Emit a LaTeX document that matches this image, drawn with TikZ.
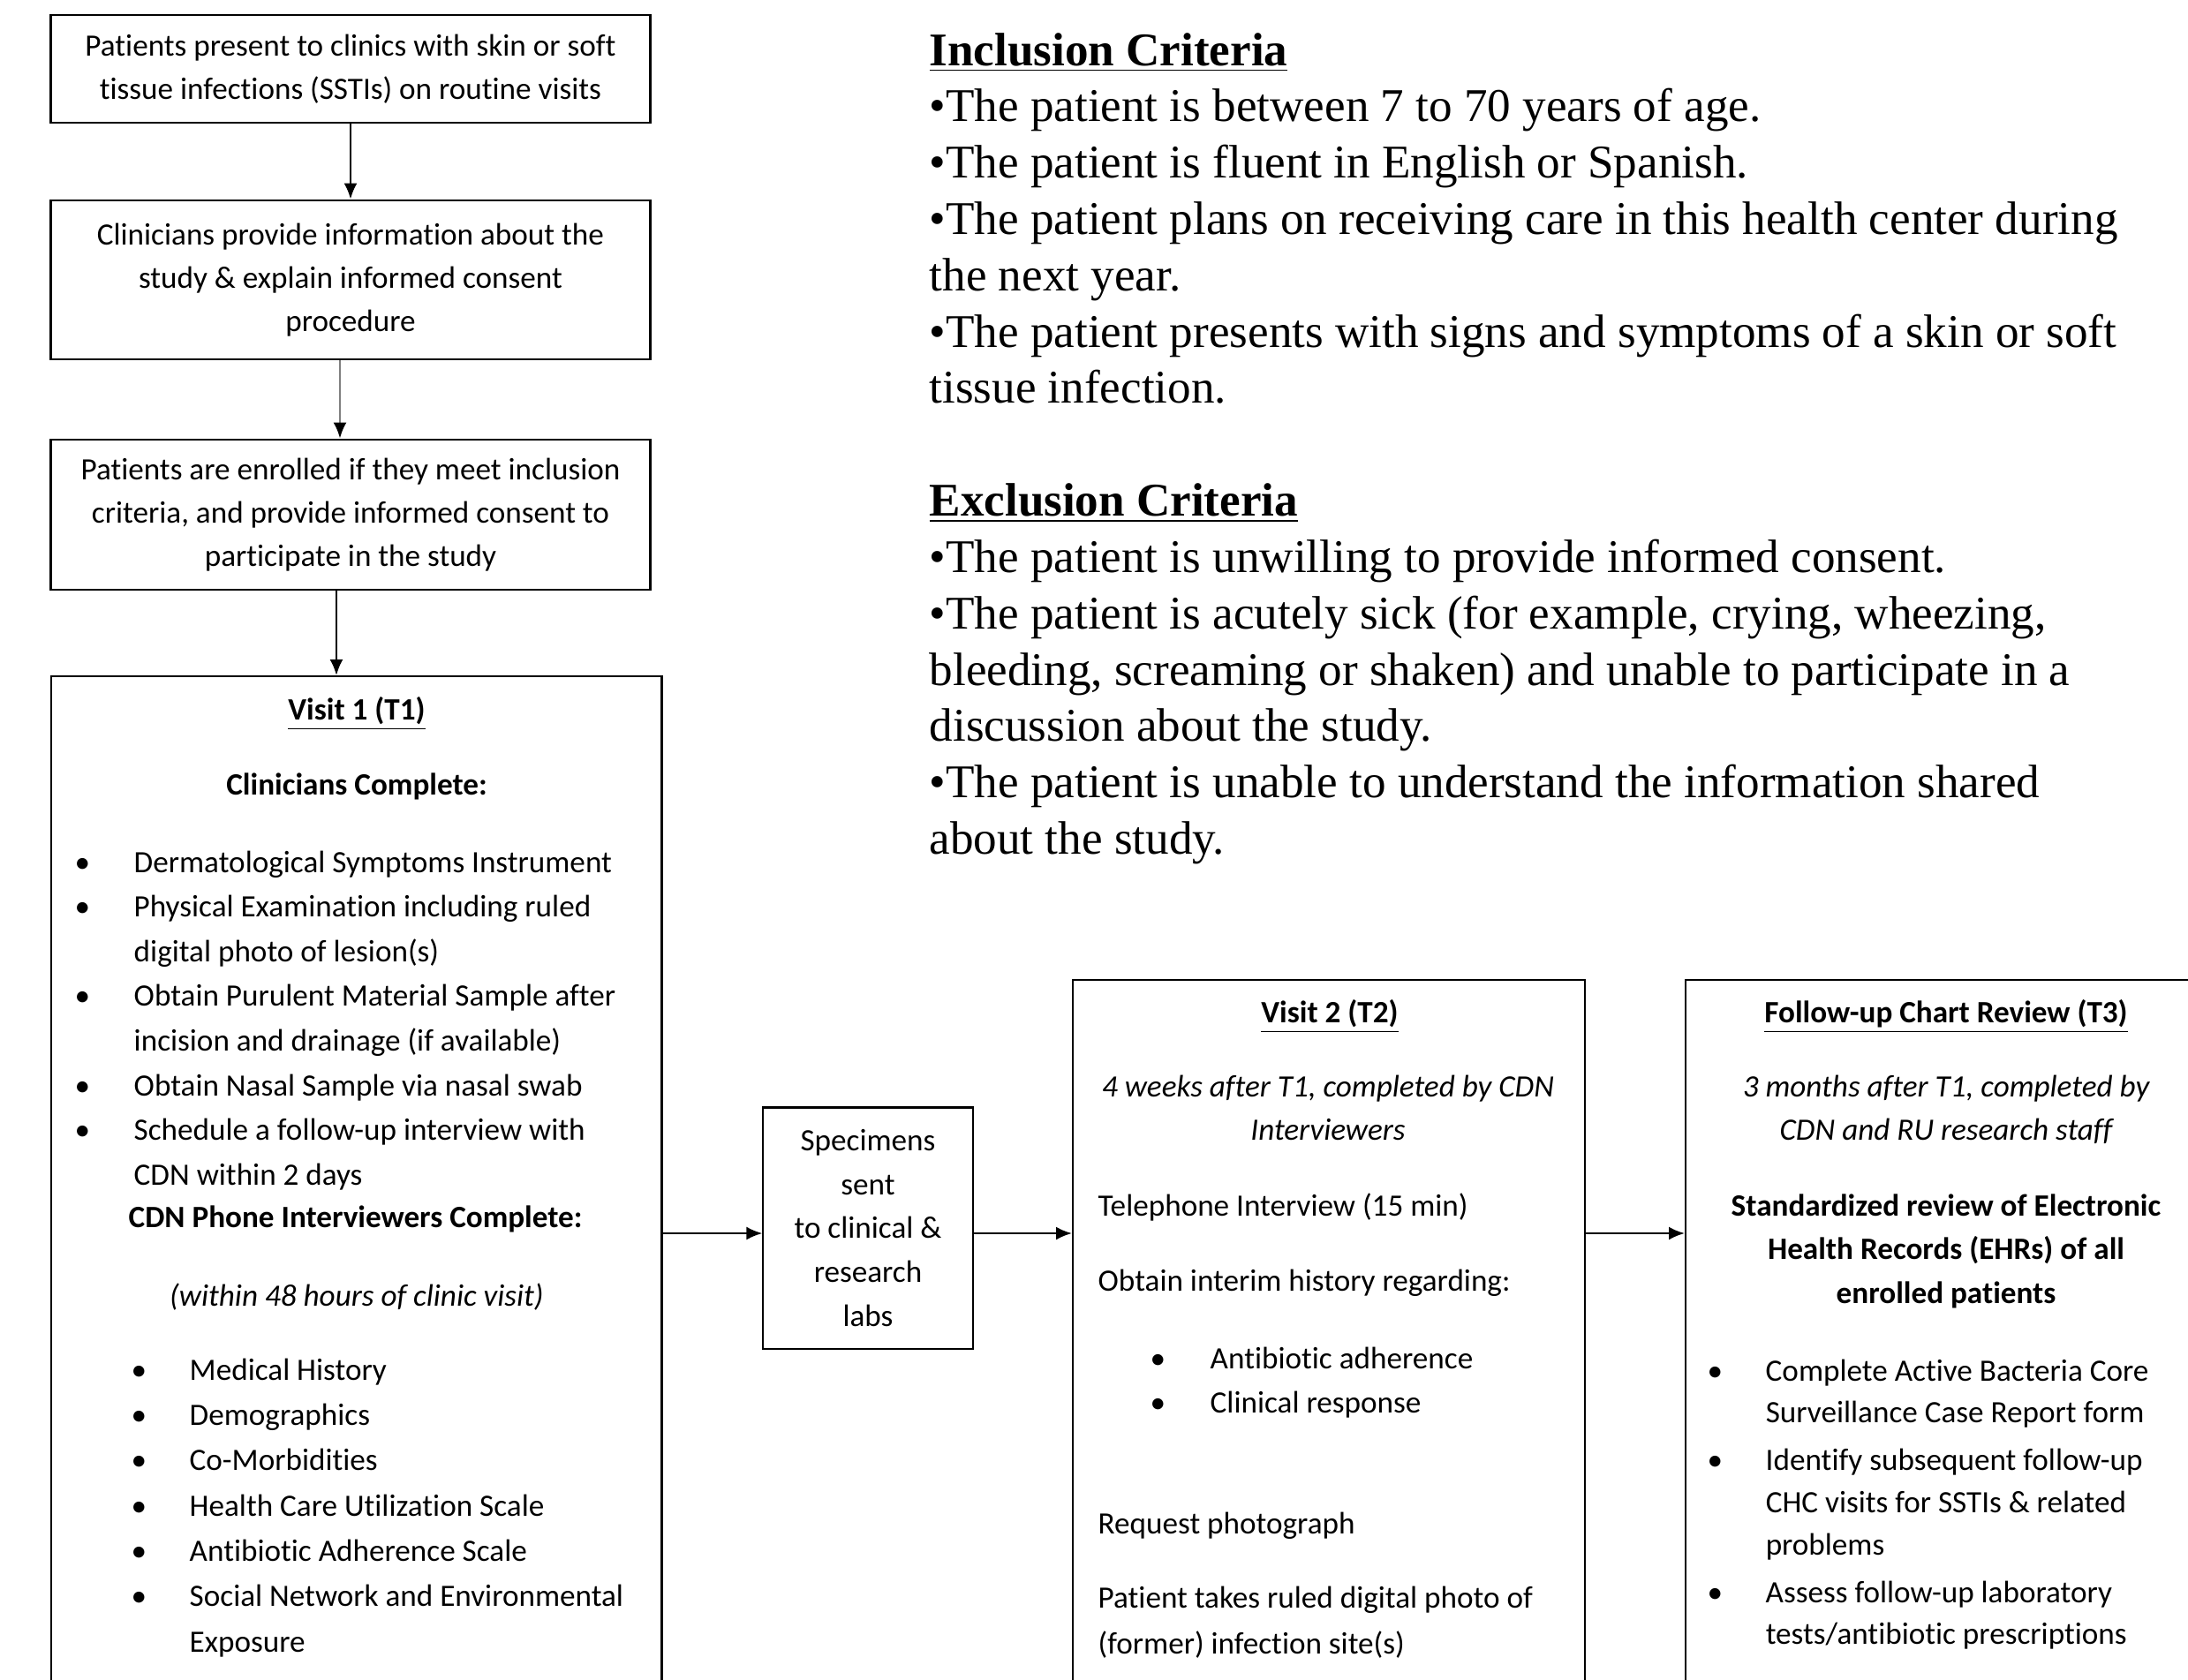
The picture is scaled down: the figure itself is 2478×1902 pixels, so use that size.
\documentclass[tikz,border=0pt]{standalone}
\usepackage{fontspec}
\setmainfont{Liberation Serif}
\newfontfamily\calibri[Ligatures=NoCommon]{Carlito}
\usetikzlibrary{arrows.meta,positioning,calc}

\begin{document}
\begin{tikzpicture}[
    x=0.01cm, y=-0.01cm,
    stepbox/.style={
        draw=black,
        line width=0.8pt,
        minimum width=6.78cm,
        align=center,
        inner sep=0pt,
        font=\calibri\fontsize{10}{14}\selectfont
    },
    panel/.style={
        draw=black,
        line width=0.6pt,
        anchor=north west,
        minimum height=12cm,
        inner sep=0pt
    },
    txt/.style={
        inner sep=0pt,
        anchor=base,
        font=\calibri\fontsize{10}{14.4}\selectfont
    },
    lst/.style={txt, anchor=base west},
    arr/.style={-{Latex[length=0.18cm,width=0.15cm]}, line width=0.7pt},
    grayarr/.style={-{Latex[length=0.18cm,width=0.15cm,black]}, line width=0.7pt, draw=gray}
]
\useasboundingbox (0,0) rectangle (2478,1902);

% left column
\node[stepbox, minimum height=1.22cm] (present) at (397,78)
{Patients present to clinics with skin or soft\\
tissue infections (SSTIs) on routine visits};

\node[stepbox, minimum height=1.80cm] (inform) at (397,317)
{Clinicians provide information about the\\
study \& explain informed consent\\
procedure};

\node[stepbox, minimum height=1.70cm] (enrol) at (397,583)
{Patients are enrolled if they meet inclusion\\
criteria, and provide informed consent to\\
participate in the study};

\draw[arr] (present) -- (inform);
\draw[grayarr] ([xshift=-0.12cm]inform.south) -- ([xshift=-0.12cm]enrol.north);

% visit 1
\node[panel, minimum width=6.91cm] (visit1) at (57,765) {};
\draw[arr] ([xshift=-0.16cm]enrol.south) -- ([xshift=-0.16cm]enrol.south |- visit1.north);

\node[txt] (v1title) at (404,815) {\textbf{\underline{Visit 1 (T1)}}};
\node[txt] (v1clin) at (404,900) {\textbf{Clinicians Complete:}};
\node[lst] (v1list) at (84,988)
{\begin{tabular}[t]{@{}p{0.67cm}@{}l@{}}
\textbullet & Dermatological Symptoms Instrument\\
\textbullet & Physical Examination including ruled\\
 & digital photo of lesion(s)\\
\textbullet & Obtain Purulent Material Sample after\\
 & incision and drainage (if available)\\
\textbullet & Obtain Nasal Sample via nasal swab\\
\textbullet & Schedule a follow-up interview with\\
 & CDN within 2 days
\end{tabular}};
\node[lst] (v1cdn) at (145,1390) {\textbf{CDN Phone Interviewers Complete:}};
\node[txt] (v1within) at (404,1479) {\textit{(within 48 hours of clinic visit)}};
\node[lst, font=\calibri\fontsize{10}{14.6}\selectfont] (v1sub) at (148,1563)
{\begin{tabular}[t]{@{}p{0.66cm}@{}l@{}}
\textbullet & Medical History\\
\textbullet & Demographics\\
\textbullet & Co-Morbidities\\
\textbullet & Health Care Utilization Scale\\
\textbullet & Antibiotic Adherence Scale\\
\textbullet & Social Network and Environmental\\
 & Exposure
\end{tabular}};

% specimens
\node[stepbox, line width=0.6pt, minimum width=2.37cm, minimum height=2.73cm,
      font=\calibri\fontsize{10}{14.1}\selectfont] (specimens) at (983,1391)
{Specimens\\ sent\\ to clinical \&\\ research\\ labs};

% visit 2
\node[panel, minimum width=5.80cm] (visit2) at (1214,1109) {};
\node[txt] (v2title) at (1506,1158) {\textbf{\underline{Visit 2 (T2)}}};
\node[txt, font=\calibri\itshape\fontsize{10}{14.2}\selectfont] (v2when) at (1504,1242)
{\begin{tabular}[t]{@{}c@{}}
4 weeks after T1, completed by CDN\\
Interviewers
\end{tabular}};
\node[lst] (v2phone) at (1243,1377) {Telephone Interview (15 min)};
\node[lst] (v2history) at (1243,1462) {Obtain interim history regarding:};
\node[lst] (v2list) at (1302,1550)
{\begin{tabular}[t]{@{}p{0.68cm}@{}l@{}}
\textbullet & Antibiotic adherence\\
\textbullet & Clinical response
\end{tabular}};
\node[lst] (v2photo) at (1243,1737) {Request photograph};
\node[lst, font=\calibri\fontsize{10}{14.9}\selectfont] (v2takes) at (1243,1821)
{\begin{tabular}[t]{@{}l@{}}
Patient takes ruled digital photo of\\
(former) infection site(s)
\end{tabular}};

% follow-up chart review
\node[panel, minimum width=6.00cm] (followup) at (1908,1109) {};
\node[txt] (futitle) at (2204,1158) {\textbf{\underline{Follow-up Chart Review (T3)}}};
\node[txt, font=\calibri\itshape\fontsize{10}{14.2}\selectfont] (fuwhen) at (2204,1242)
{\begin{tabular}[t]{@{}c@{}}
3 months after T1, completed by\\
CDN and RU research staff
\end{tabular}};
\node[txt, font=\calibri\bfseries\fontsize{10}{14.1}\selectfont] (fureview) at (2204,1377)
{\begin{tabular}[t]{@{}c@{}}
Standardized review of Electronic\\
Health Records (EHRs) of all\\
enrolled patients
\end{tabular}};
\node[lst, font=\calibri\fontsize{10}{13.6}\selectfont] (fulist) at (1933,1564)
{\begin{tabular}[t]{@{}p{0.66cm}@{}l@{}}
\textbullet & Complete Active Bacteria Core\\
 & Surveillance Case Report form\\[0.06cm]
\textbullet & Identify subsequent follow-up\\
 & CHC visits for SSTIs \& related\\
 & problems\\[0.06cm]
\textbullet & Assess follow-up laboratory\\
 & tests/antibiotic prescriptions
\end{tabular}};

% bottom flow
\coordinate (flow) at (0,1397);
\draw[arr] (visit1.east |- flow) -- (specimens.west |- flow);
\draw[arr] (specimens.east |- flow) -- (visit2.west |- flow);
\draw[arr] (visit2.east |- flow) -- (followup.west |- flow);

% criteria
\node[lst, font=\fontsize{15.1}{18.15}\selectfont] (criteria) at (1052,74)
{\begin{tabular}[t]{@{}l@{}}
\textbf{\underline{Inclusion Criteria}}\\
•The patient is between 7 to 70 years of age.\\
•The patient is fluent in English or Spanish.\\
•The patient plans on receiving care in this health center during\\
the next year.\\
•The patient presents with signs and symptoms of a skin or soft\\
tissue infection.\\
\\
\textbf{\underline{Exclusion Criteria}}\\
•The patient is unwilling to provide informed consent.\\
•The patient is acutely sick (for example, crying, wheezing,\\
bleeding, screaming or shaken) and unable to participate in a\\
discussion about the study.\\
•The patient is unable to understand the information shared\\
about the study.
\end{tabular}};

\end{tikzpicture}
\end{document}
